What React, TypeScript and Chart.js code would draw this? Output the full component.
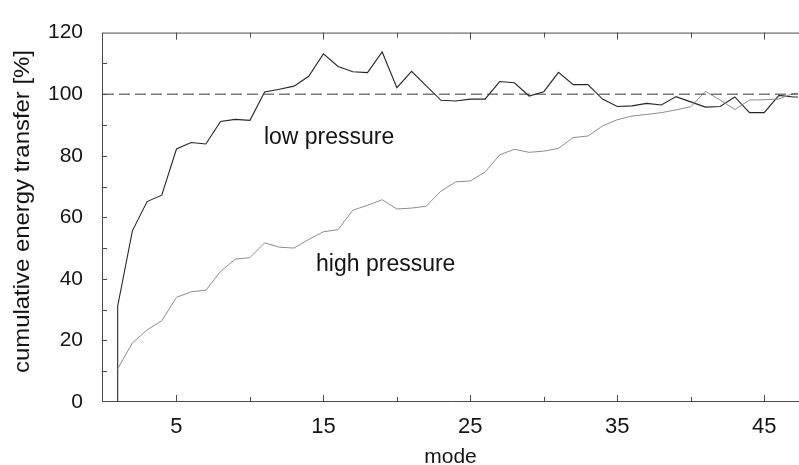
import React, { useEffect, useRef } from "react";
import { Chart, registerables } from "chart.js";

Chart.register(...registerables);

const FONT = '"Liberation Sans", Arial, Helvetica, sans-serif';

// x categories (mode numbers)
const modes = [
  1, 2, 3, 4, 5, 6, 7, 8, 9, 10, 11, 12, 13, 14, 15, 16, 17, 18, 19, 20, 21, 22, 23, 24,
  25, 26, 27, 28, 29, 30, 31, 32, 33, 34, 35, 36, 37, 38, 39, 40, 41, 42, 43, 44, 45, 46, 47, 48,
];

// low pressure: starts with a vertical rise from 0 at mode 1
const lowStartMode = 1;
const lowStartValue = 0;
const lowPressure = [
  31.2, 55.6, 65.1, 67.2, 82.2, 84.3, 83.8, 91.1, 91.8, 91.5, 100.7, 101.6, 102.6, 105.8,
  113.1, 109.0, 107.3, 107.0, 113.7, 102.1, 107.4, 102.7, 98.0, 97.8, 98.4, 98.4, 104.1,
  103.7, 99.4, 100.8, 107.1, 103.1, 103.1, 98.4, 96.0, 96.2, 97.0, 96.5, 99.2, 97.5, 95.8,
  96.0, 99.1, 94.0, 94.0, 99.6, 99.1, 99.0,
];

const highPressure = [
  10.8, 19.2, 23.4, 26.4, 34.0, 35.8, 36.3, 42.4, 46.4, 46.9, 51.7, 50.3, 50.0, 52.8, 55.3,
  56.0, 62.3, 63.9, 65.7, 62.7, 63.0, 63.6, 68.5, 71.5, 71.8, 74.7, 80.3, 82.1, 81.1, 81.5,
  82.4, 85.9, 86.4, 89.7, 91.7, 92.9, 93.4, 94.0, 94.9, 95.9, 100.9, 98.1, 95.0, 98.1, 98.2,
  98.4, 100.3, 99.7,
];

const referenceModes = [0, 48];
const referenceValue = 100;

const xTickLabels = [5, 15, 25, 35, 45];
const xTickMarks = [5, 10, 15, 20, 25, 30, 35, 40, 45];
const yTickLabels = [0, 20, 40, 60, 80, 100, 120];
const yTickMarks = [10, 20, 30, 40, 50, 60, 70, 80, 90, 100, 110];

const X_MIN = 0;
const X_MAX = 47.3;
const Y_MIN = 0;
const Y_MAX = 120;

const yTitle = "cumulative energy transfer [%]";
const xTitle = "mode";
const lowLabel = { text: "low pressure", mode: 10.95, value: 83.7 };
const highLabel = { text: "high pressure", mode: 14.5, value: 42.5 };

const FRAME = "#4a4a4a";
const TEXT = "#141414";

const framePlugin = {
  id: "frameTicks",
  afterDatasetsDraw(chart: any) {
    const { ctx, chartArea, scales } = chart;
    const { left, right, top, bottom } = chartArea;
    const xs = scales.x;
    const ys = scales.y;
    ctx.save();
    ctx.strokeStyle = FRAME;
    ctx.lineWidth = 1;
    ctx.beginPath();
    // frame: top, left, bottom
    ctx.moveTo(left - 0.5, top + 0.5);
    ctx.lineTo(right + 2, top + 0.5);
    ctx.moveTo(left - 0.5, top);
    ctx.lineTo(left - 0.5, bottom);
    ctx.moveTo(left - 0.5, bottom - 0.5);
    ctx.lineTo(right + 2, bottom - 0.5);
    // y ticks (inward)
    yTickMarks.forEach((v) => {
      const py = Math.round(ys.getPixelForValue(v)) + 0.5;
      ctx.moveTo(left, py);
      ctx.lineTo(left + 4, py);
    });
    // x ticks (inward, bottom and top)
    xTickMarks.forEach((v) => {
      const px = Math.round(xs.getPixelForValue(v)) + 0.5;
      const len = v % 10 === 5 ? 7 : 5;
      ctx.moveTo(px, bottom);
      ctx.lineTo(px, bottom - len);
      ctx.moveTo(px, top);
      ctx.lineTo(px, top + len);
    });
    ctx.stroke();

    // inline labels
    ctx.fillStyle = TEXT;
    ctx.font = `23px ${FONT}`;
    ctx.textAlign = "left";
    ctx.textBaseline = "alphabetic";
    [lowLabel, highLabel].forEach((l) => {
      ctx.fillText(l.text, xs.getPixelForValue(l.mode), ys.getPixelForValue(l.value));
    });

    // y axis title (stretched along its length like the scanned original)
    ctx.save();
    ctx.font = `22px ${FONT}`;
    const w = ctx.measureText(yTitle).width;
    const stretch = 323 / w;
    ctx.translate(28.5, 211.5);
    ctx.rotate(-Math.PI / 2);
    ctx.scale(stretch, 1);
    ctx.textAlign = "center";
    ctx.textBaseline = "alphabetic";
    ctx.fillText(yTitle, 0, 0);
    ctx.restore();

    ctx.restore();
  },
};

export default function App() {
  const canvasRef = useRef<HTMLCanvasElement | null>(null);

  useEffect(() => {
    if (!canvasRef.current) return;
    const lowData = [{ x: lowStartMode, y: lowStartValue }].concat(
      modes.map((m, i) => ({ x: m, y: lowPressure[i] }))
    );
    const highData = modes.map((m, i) => ({ x: m, y: highPressure[i] }));
    const refData = referenceModes.map((m) => ({ x: m, y: referenceValue }));

    const chart = new Chart(canvasRef.current, {
      type: "line",
      data: {
        datasets: [
          {
            label: "reference",
            data: refData,
            borderColor: "#3a3a3a",
            borderWidth: 1,
            borderDash: [11, 5],
            pointRadius: 0,
            tension: 0,
          },
          {
            label: "high pressure",
            data: highData,
            borderColor: "#8c8c8c",
            borderWidth: 1,
            pointRadius: 0,
            tension: 0,
          },
          {
            label: "low pressure",
            data: lowData,
            borderColor: "#262626",
            borderWidth: 1.1,
            pointRadius: 0,
            tension: 0,
          },
        ],
      },
      options: {
        animation: false,
        responsive: false,
        devicePixelRatio: 1,
        layout: { padding: { top: 22, right: 1, left: 0, bottom: 0 } },
        plugins: {
          legend: { display: false },
          tooltip: { enabled: false },
        },
        scales: {
          x: {
            type: "linear",
            min: X_MIN,
            max: X_MAX,
            grid: { display: false, drawTicks: false },
            border: { display: false },
            ticks: {
              color: TEXT,
              font: { family: FONT, size: 22 },
              padding: 12,
              maxRotation: 0,
              autoSkip: false,
            },
            afterBuildTicks: (s: any) => {
              s.ticks = xTickLabels.map((v) => ({ value: v }));
            },
            afterFit: (s: any) => {
              s.height = 63;
            },
            title: {
              display: true,
              text: xTitle,
              color: TEXT,
              font: { family: FONT, size: 21 },
              padding: { top: 0, bottom: -5 },
            },
          },
          y: {
            type: "linear",
            min: Y_MIN,
            max: Y_MAX,
            grid: { display: false, drawTicks: false },
            border: { display: false },
            ticks: {
              color: TEXT,
              font: { family: FONT, size: 21 },
              padding: 20,
              autoSkip: false,
            },
            afterBuildTicks: (s: any) => {
              s.ticks = yTickLabels.map((v) => ({ value: v }));
            },
            afterFit: (s: any) => {
              s.width = 103;
            },
          },
        },
      },
      plugins: [framePlugin],
    });
    return () => chart.destroy();
  }, []);

  return (
    <div style={{ position: "absolute", left: 0, top: 0, width: 799, height: 465, background: "#fff" }}>
      <canvas ref={canvasRef} width={799} height={465} style={{ display: "block" }} />
    </div>
  );
}
